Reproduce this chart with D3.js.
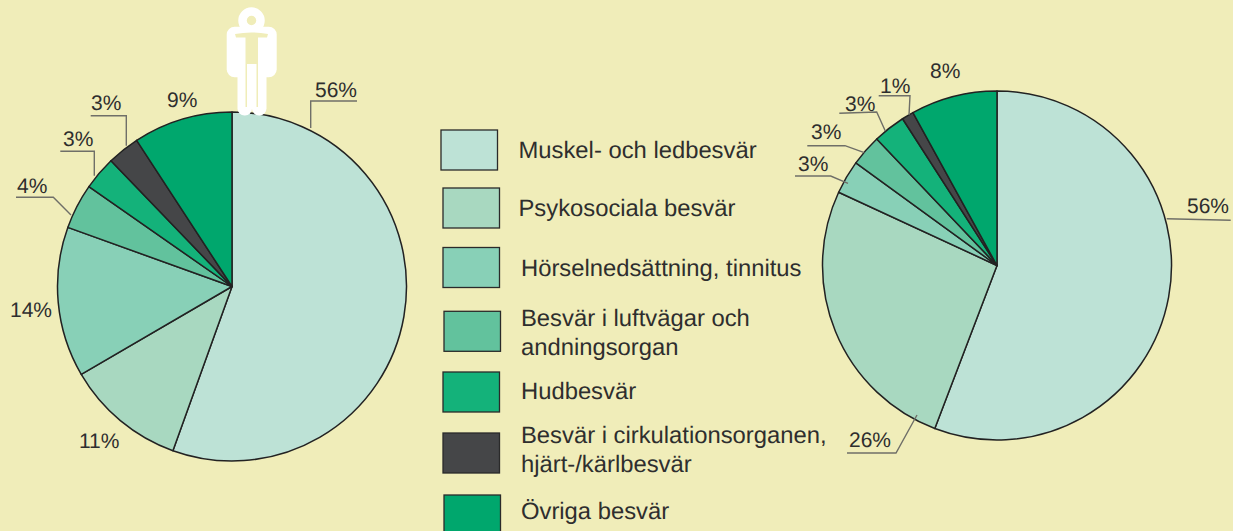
<!DOCTYPE html>
<html><head><meta charset="utf-8">
<script src="https://cdn.jsdelivr.net/npm/d3@7"></script>
<style>html,body{margin:0;padding:0;background:#f0edb9;overflow:hidden}svg{display:block}text{font-family:"Liberation Sans",Arial,sans-serif;fill:#2e2e2e;text-rendering:geometricPrecision}</style>
</head><body><svg id="c" width="1233" height="531"></svg>
<script>
const categories=["Muskel- och ledbesvär","Psykosociala besvär","Hörselnedsättning, tinnitus","Besvär i luftvägar och|andningsorgan","Hudbesvär","Besvär i cirkulationsorganen,|hjärt-/kärlbesvär","Övriga besvär"];
const colors=["#bde2d6","#a8d8c0","#88d0b7","#62c29d","#14b27a","#454648","#00a76d"];
const leftValues=[55.5,11.1,13.9,4.2,3.1,3.0,9.2];
const rightValues=[55.8,26.1,3.1,2.9,3.0,1.1,8.0];
const leftLabels=["56%","11%","14%","4%","3%","3%","9%"];
const rightLabels=["56%","26%","3%","3%","3%","1%","8%"];

const svg=d3.select("#c");
svg.append("rect").attr("width",1233).attr("height",531).attr("fill","#f0edb9");
const pie=d3.pie().sort(null).value(d=>d);
const arc=d3.arc().innerRadius(0).outerRadius(174.5);
function drawPie(vals,cx,cy){
  svg.append("g").attr("transform",`translate(${cx},${cy})`).selectAll("path").data(pie(vals)).join("path")
    .attr("d",arc).attr("fill",(d,i)=>colors[i]).attr("stroke","#222").attr("stroke-width",1.5).attr("stroke-linejoin","round");
}
drawPie(leftValues,232,286.5);
drawPie(rightValues,997,265.5);

const leftLayout=[
 [315,97,[[310.7,128],[310.7,101],[357,101]]],
 [79,447.7,null],
 [10,316.7,null],
 [17,193,[[71,215],[53.3,197.3],[16,197.3]]],
 [63,146,[[94.3,175.7],[94.3,151.3],[60.3,151.3]]],
 [91,110,[[126.3,145.7],[126.3,115.7],[90.7,115.7]]],
 [167,107,null]];
const rightLayout=[
 [1187,213,[[1166.7,218.7],[1230.7,220.3]]],
 [849,447,[[917,415],[896,453],[847,453]]],
 [798,171,[[848,183.3],[830.7,176],[795,176]]],
 [811,139,[[864.3,152.7],[845,145.7],[807.3,145.7]]],
 [845,110.5,[[885.3,131],[876.7,112],[839.3,113.3]]],
 [880,93,[[909,115],[910,95.7],[878.7,95.7]]],
 [930,78,null]];
const line=d3.line();
function drawLabels(labels,layout){
  labels.forEach((t,i)=>{
    const [x,y,pts]=layout[i];
    svg.append("text").attr("x",x).attr("y",y).attr("font-size",21).text(t);
    if(pts) svg.append("path").attr("d",line(pts)).attr("fill","none").attr("stroke","#6f6f68").attr("stroke-width",1.4);
  });
}
drawLabels(leftLabels,leftLayout);
drawLabels(rightLabels,rightLayout);

const boxes=[[441,130],[443,188],[443,247.5],[444,311.3],[443,372],[443,433],[444,495]];
const textPos=[[518.5,158,0],[518.5,216,0],[521,276,0],[521,325.7,29.3],[521,399.3,0],[521,443.3,29],[521,519.3,0]];
categories.forEach((c,i)=>{
  svg.append("rect").attr("x",boxes[i][0]).attr("y",boxes[i][1]).attr("width",56.5).attr("height",40)
    .attr("fill",colors[i]).attr("stroke","#2a2a2a").attr("stroke-width",1.3);
  c.split("|").forEach((s,j)=>{
    svg.append("text").attr("x",textPos[i][0]).attr("y",textPos[i][1]+j*textPos[i][2]).attr("font-size",23.8).text(s);
  });
});

const g=svg.append("g");
g.append("circle").attr("cx",251.5).attr("cy",20.5).attr("r",9).attr("fill","none").attr("stroke","#fff").attr("stroke-width",8.5);
g.append("rect").attr("x",226.7).attr("y",26.7).attr("width",50).attr("height",50.6).attr("rx",8).attr("fill","#fff");
g.append("rect").attr("x",237.5).attr("y",60).attr("width",14.5).attr("height",55.5).attr("rx",7).attr("fill","#fff");
g.append("rect").attr("x",252).attr("y",60).attr("width",14.5).attr("height",55.5).attr("rx",7).attr("fill","#fff");
g.append("path").attr("d","M235 34Q251 31 268 34L267 37.5H258V107H256.5V64H247V107H245.5V37.5H236Z").attr("fill","#f0edb9");
</script></body></html>
